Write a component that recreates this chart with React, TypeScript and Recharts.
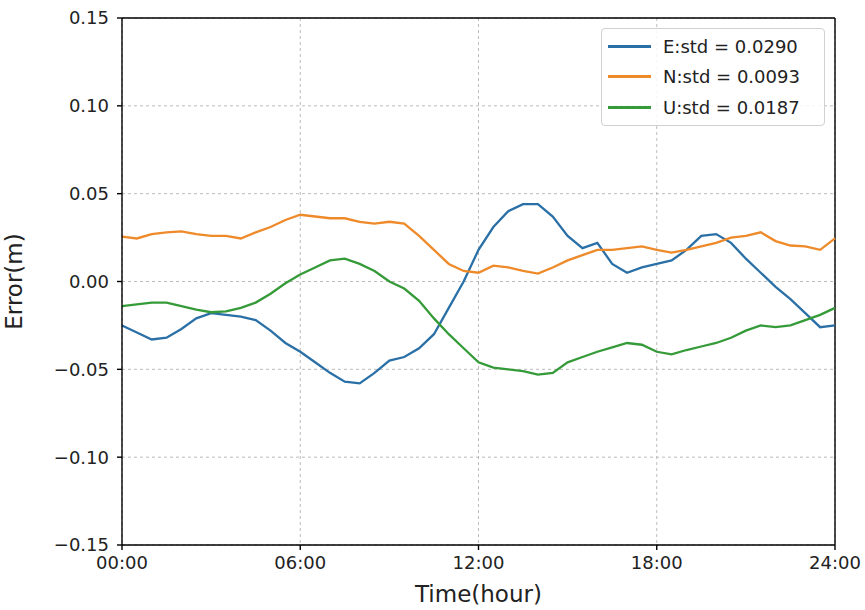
import React from 'react';
import {
  LineChart,
  Line,
  XAxis,
  YAxis,
  CartesianGrid,
  ReferenceLine,
  Label
} from 'recharts';

// hours since 00:00, sampled every half hour
const HOURS = [
  0, 0.5, 1, 1.5, 2, 2.5, 3, 3.5, 4, 4.5, 5, 5.5, 6, 6.5, 7, 7.5, 8, 8.5, 9, 9.5,
  10, 10.5, 11, 11.5, 12, 12.5, 13, 13.5, 14, 14.5, 15, 15.5, 16, 16.5, 17, 17.5,
  18, 18.5, 19, 19.5, 20, 20.5, 21, 21.5, 22, 22.5, 23, 23.5, 24
];

const EAST = [
  -0.025, -0.029, -0.033, -0.032, -0.027, -0.021, -0.018, -0.019, -0.02, -0.022,
  -0.028, -0.035, -0.04, -0.046, -0.052, -0.057, -0.058, -0.052, -0.045, -0.043,
  -0.038, -0.03, -0.015, 0.0, 0.018, 0.031, 0.04, 0.044, 0.044, 0.037,
  0.026, 0.019, 0.022, 0.01, 0.005, 0.008, 0.01, 0.012, 0.018, 0.026,
  0.027, 0.022, 0.013, 0.005, -0.003, -0.01, -0.018, -0.026, -0.025
];

const NORTH = [
  0.0255, 0.0245, 0.027, 0.028, 0.0285, 0.027, 0.026, 0.026, 0.0245, 0.028,
  0.031, 0.035, 0.038, 0.037, 0.036, 0.036, 0.034, 0.033, 0.034, 0.033,
  0.026, 0.018, 0.01, 0.006, 0.005, 0.009, 0.008, 0.006, 0.0045, 0.008,
  0.012, 0.015, 0.018, 0.018, 0.019, 0.02, 0.018, 0.0165, 0.018, 0.02,
  0.022, 0.025, 0.026, 0.028, 0.023, 0.0205, 0.02, 0.018, 0.0245
];

const UP = [
  -0.014, -0.013, -0.012, -0.012, -0.014, -0.016, -0.0175, -0.017, -0.015, -0.012,
  -0.007, -0.001, 0.004, 0.008, 0.012, 0.013, 0.01, 0.006, 0.0, -0.004,
  -0.011, -0.021, -0.03, -0.038, -0.046, -0.049, -0.05, -0.051, -0.053, -0.052,
  -0.046, -0.043, -0.04, -0.0375, -0.035, -0.036, -0.04, -0.0415, -0.039, -0.037,
  -0.035, -0.032, -0.028, -0.025, -0.026, -0.025, -0.022, -0.019, -0.015
];

const X_TICKS = [0, 6, 12, 18, 24];
const Y_TICKS = [-0.15, -0.1, -0.05, 0, 0.05, 0.1, 0.15];

const SERIES = [
  { key: 'E', name: 'E:std = 0.0290', color: '#2a70a6' },
  { key: 'N', name: 'N:std = 0.0093', color: '#ee8a2a' },
  { key: 'U', name: 'U:std = 0.0187', color: '#359a38' }
];

const data = HOURS.map((h, i) => ({ t: h, E: EAST[i], N: NORTH[i], U: UP[i] }));

const FONT = "'DejaVu Sans', sans-serif";

const fmtHour = (v: number) => `${String(v).padStart(2, '0')}:00`;
const fmtErr = (v: number) => (v < 0 ? '\u2212' + Math.abs(v).toFixed(2) : v.toFixed(2));

// drawn as an overlay so it doesn't steal space from the plot area
const LegendBox = () => (
  <div
    style={{
      position: 'absolute',
      left: 601,
      top: 28,
      width: 224,
      boxSizing: 'border-box',
      border: '1px solid #d0d0d0',
      borderRadius: 4,
      background: 'rgba(255,255,255,0.85)',
      padding: '2px 8px 2px 6px',
      fontFamily: FONT,
      fontSize: 18,
      color: '#222'
    }}
  >
    {SERIES.map(s => (
      <div key={s.key} style={{ display: 'flex', alignItems: 'center', height: 30.5 }}>
        <span style={{ display: 'inline-block', width: 43, height: 3, background: s.color, marginRight: 12 }} />
        <span>{s.name}</span>
      </div>
    ))}
  </div>
);

export default function App() {
  return (
    <div style={{ position: 'relative', width: 865, height: 610, background: '#fff' }}>
      <style>{'body{margin:0}'}</style>
      <LineChart
        width={865}
        height={610}
        data={data}
        margin={{ top: 18, right: 30, bottom: 0, left: 0 }}
      >
        <CartesianGrid stroke="#b4b4b4" strokeDasharray="3 3" strokeWidth={0.9} />
        <XAxis
          dataKey="t"
          type="number"
          domain={[0, 24]}
          ticks={X_TICKS}
          tickFormatter={fmtHour}
          height={65}
          stroke="#000"
          strokeWidth={1.4}
          tickSize={5}
          tickMargin={6}
          tick={{ fill: '#222', fontSize: 18, fontFamily: FONT }}
        >
          <Label
            value="Time(hour)"
            position="insideBottom"
            offset={8}
            style={{ fill: '#222', fontSize: 23, fontFamily: FONT }}
          />
        </XAxis>
        <YAxis
          type="number"
          domain={[-0.15, 0.15]}
          ticks={Y_TICKS}
          tickFormatter={fmtErr}
          width={122}
          stroke="#000"
          strokeWidth={1.4}
          tickSize={5}
          tickMargin={8}
          allowDataOverflow
          tick={{ fill: '#222', fontSize: 18, fontFamily: FONT }}
        >
          <Label
            value="Error(m)"
            angle={-90}
            position="insideLeft"
            offset={14}
            style={{ fill: '#222', fontSize: 23, fontFamily: FONT, textAnchor: 'middle' }}
          />
        </YAxis>
        <ReferenceLine y={0.15} stroke="#000" strokeWidth={1.4} />
        <ReferenceLine x={24} stroke="#000" strokeWidth={1.4} />
        {SERIES.map(s => (
          <Line
            key={s.key}
            dataKey={s.key}
            name={s.name}
            stroke={s.color}
            strokeWidth={2.3}
            dot={false}
            type="linear"
            isAnimationActive={false}
          />
        ))}
      </LineChart>
      <LegendBox />
    </div>
  );
}
